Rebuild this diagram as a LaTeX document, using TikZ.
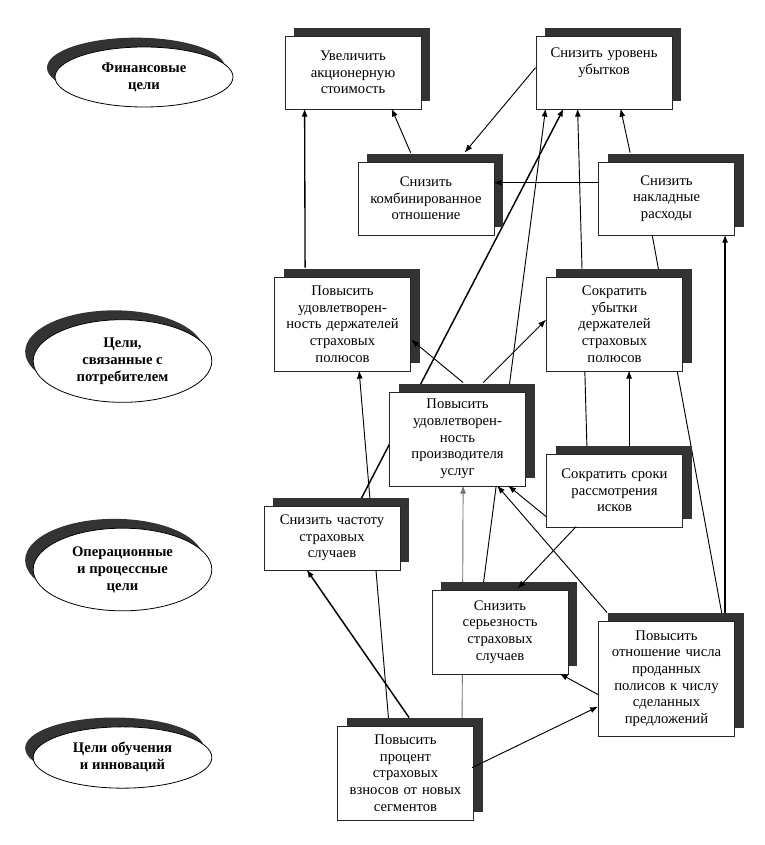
\documentclass[tikz,border=0pt]{standalone}
\usepackage{fontspec}
\setmainfont{Liberation Serif}
\usetikzlibrary{calc}
\usetikzlibrary{shadows}
\usetikzlibrary{shapes.geometric}
\usetikzlibrary{arrows.meta}
\usetikzlibrary{backgrounds}

\begin{document}
\begin{tikzpicture}[x=0.75pt, y=-0.75pt]
\def\u{0.75pt}
\tikzset{
  goal/.style={draw=black!85, line width=0.6pt, fill=white, align=center,
    text width=96pt, minimum width=102pt, inner sep=0pt,
    font=\fontsize{11pt}{12.5pt}\selectfont,
    drop shadow={shadow xshift=6.75pt, shadow yshift=6pt, fill=black!80, opacity=1}},
  level/.style={ellipse, draw, line width=0.6pt, fill=white, align=center, inner sep=0pt,
    font=\bfseries\fontsize{11pt}{12.75pt}\selectfont,
    drop shadow={shadow xshift=-6pt, shadow yshift=7pt, fill=black!80, opacity=1}},
  link/.style={line width=0.7pt, arrows={-Latex[length=6pt, width=4.5pt]}},
  plain/.style={line width=0.7pt}
}
\useasboundingbox (0, 0) rectangle (764, 845);

\node[level, minimum width=133.5pt, minimum height=45pt] (e1) at (144, 77) {Финансовые\\цели};
\node[level, minimum width=134pt, minimum height=62pt] (e2) at (122.5, 361) {Цели,\\связанные с\\потребителем};
\node[level, minimum width=134pt, minimum height=62pt] (e3) at (122.5, 569.5) {Операционные\\и процессные\\цели};
\node[level, minimum width=134pt, minimum height=46pt] (e4) at (122.5, 757.5) {Цели обучения\\и инноваций};

\node[goal, minimum height=54.75pt] (m11) at (353, 72.5) {Увеличить\\акционерную\\стоимость};
\node[goal, minimum height=54.75pt, text depth=30pt] (m12) at (604, 72.5) {Снизить уровень\\убытков};
\node[goal, minimum height=54.75pt] (m21) at (426, 198.5) {Снизить\\комбинированное\\отношение};
\node[goal, minimum height=54.75pt] (m22) at (666.5, 198.5) {Снизить\\накладные\\расходы};
\node[goal, minimum height=70.5pt] (m31) at (342.5, 324) {Повысить\\удовлетворен-\\ность держателей\\страховых\\полюсов};
\node[goal, minimum height=70.5pt] (m32) at (614.5, 324) {Сократить\\убытки\\держателей\\страховых\\полюсов};
\node[goal, minimum height=70.5pt] (m41) at (457.5, 439) {Повысить\\удовлетворен-\\ность\\производителя\\услуг};
\node[goal, minimum height=54.75pt] (m42) at (614.5, 490.5) {Сократить сроки\\рассмотрения\\исков};
\node[goal, minimum height=48pt] (m51) at (332, 538) {Снизить частоту\\страховых\\случаев};
\node[goal, minimum height=63pt] (m61) at (500, 632) {Снизить\\серьезность\\страховых\\случаев};
\node[goal, minimum height=86.25pt] (m62) at (666.5, 678.5) {Повысить\\отношение числа\\проданных\\полисов к числу\\сделанных\\предложений};
\node[goal, minimum height=70.5pt] (m71) at (405.5, 773) {Повысить\\процент\\страховых\\взносов от новых\\сегментов};

\draw[link, line width=1pt] ($(m31.north west)+(31,-9)$) -- ($(m11.north west)+(20,73)$);
\draw[link] ($(m21.north west)+(53,-9)$) -- ($(m11.north west)+(107,73)$);
\draw[link] ($(m12.north west)+(0,32)$) -- ($(m21.north west)+(107,-9)$);
\draw[link] ($(m22.north west)+(0,21)$) -- ($(m21.north west)+(136,21)$);
\draw[link] ($(m22.north west)+(32,-9)$) -- ($(m12.north west)+(85,73)$);
\draw[link] ($(m41.north west)+(74,-9)$) -- ($(m31.north west)+(137,63)$);
\draw[link] ($(m41.north west)+(94,-9)$) -- ($(m32.north west)+(0,43)$);
\draw[link] ($(m42.north west)+(83,-8)$) -- ($(m32.north west)+(83,94)$);
\draw[link] ($(m42.north west)+(0,63)$) -- ($(m41.north west)+(119,94)$);
\draw[link] ($(m42.north west)+(30,73)$) -- ($(m61.north west)+(86,-1)$);
\draw[link] ($(m62.north west)+(9,-8)$) -- ($(m41.north west)+(108,94)$);
\draw[link] ($(m62.north west)+(0,74)$) -- ($(m61.north west)+(128,84)$);
\draw[link] ($(m71.north west)+(135,42)$) -- ($(m62.north west)+(0,86)$);
\draw[link, line width=1.1pt] ($(m71.north west)+(72,-8)$) -- ($(m51.north west)+(43,64)$);
\draw[link, line width=1pt] ($(m62.north west)+(127,-8)$) -- ($(m22.north west)+(127,73)$);

\begin{pgfonlayer}{background}
\draw[link] ($(m42.north west)+(41,0)$) -- ($(m12.north west)+(42,73)$);
\draw[link, line width=1.1pt] ($(m51.north west)+(94,0)$) -- ($(m12.north west)+(28,73)$);
\draw[link] ($(m61.north west)+(51,0)$) -- ($(m12.north west)+(10,73)$);
\draw[link, draw=black!55] ($(m71.north west)+(125,0)$) -- ($(m41.north west)+(74,94)$);
\draw[link] ($(m71.north west)+(52,0)$) -- ($(m31.north west)+(85,94)$);
\draw[plain] ($(m62.north west)+(125,0)$) -- ($(m22.north west)+(54,73)$);
\end{pgfonlayer}
\end{tikzpicture}
\end{document}
